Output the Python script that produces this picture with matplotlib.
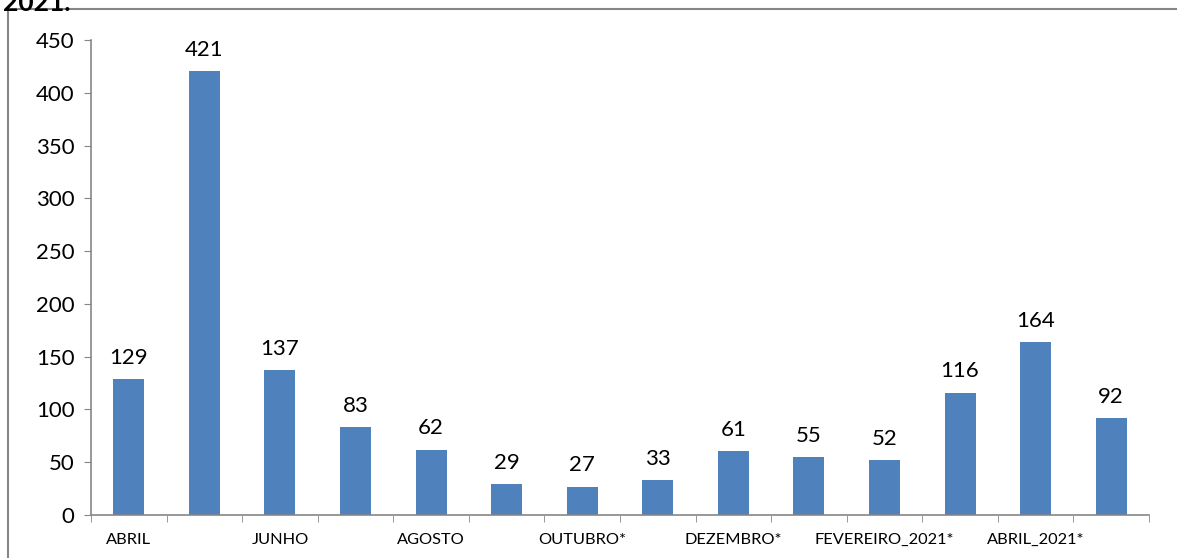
import numpy as np
import matplotlib
matplotlib.use("Agg")
from matplotlib import pyplot as plt
from matplotlib.patches import Rectangle

meses = ["ABRIL", "MAIO", "JUNHO", "JULHO", "AGOSTO", "SETEMBRO", "OUTUBRO*",
         "NOVEMBRO*", "DEZEMBRO*", "JANEIRO_2021*", "FEVEREIRO_2021*",
         "MARÇO_2021*", "ABRIL_2021*", "MAIO_2021*"]
valores = [129, 421, 137, 83, 62, 29, 27, 33, 61, 55, 52, 116, 164, 92]
yticks = [0, 50, 100, 150, 200, 250, 300, 350, 400, 450]

plt.rcParams['font.family'] = ['Lato', 'DejaVu Sans']

fig = plt.figure(figsize=(11.77, 5.58), dpi=100)
ax = fig.add_axes([91/1177, 43/558, (1149-91)/1177, (515-40)/558])

x = np.arange(len(meses))
ax.bar(x, valores, width=0.41, color='#4F81BD', zorder=2)
for xi, v in zip(x, valores):
    ax.annotate(str(v), (xi, v), xytext=(0, 8), textcoords='offset points',
                ha='center', va='bottom', fontsize=16)

ax.set_xlim(-0.5, len(meses) - 0.5)
ax.set_ylim(0, 450)
ax.set_yticks(yticks)
ax.tick_params(axis='y', labelsize=16, length=5, color='#868686', pad=7)

ax.set_xticks(x[::2])
ax.set_xticklabels(meses[::2], fontsize=11.8)
ax.set_xticks(np.arange(-0.5, len(meses)), minor=True)
ax.tick_params(axis='x', which='major', length=0, pad=13)
ax.tick_params(axis='x', which='minor', length=5, color='#868686')

for s in ['top', 'right']:
    ax.spines[s].set_visible(False)
for s in ['left', 'bottom']:
    ax.spines[s].set_color('#868686')
    ax.spines[s].set_linewidth(1.2)

# moldura do gráfico
fig.patches.append(Rectangle((8/1177, -0.1), 1.2, (558-9)/558 + 0.1,
                             transform=fig.transFigure, fill=False,
                             edgecolor='#868686', linewidth=1.5))
fig.text(3/1177, 1.0 + 9/558, "2021.", fontsize=19, fontweight='bold',
         ha='left', va='top')

fig.savefig("out.png", dpi=100)
